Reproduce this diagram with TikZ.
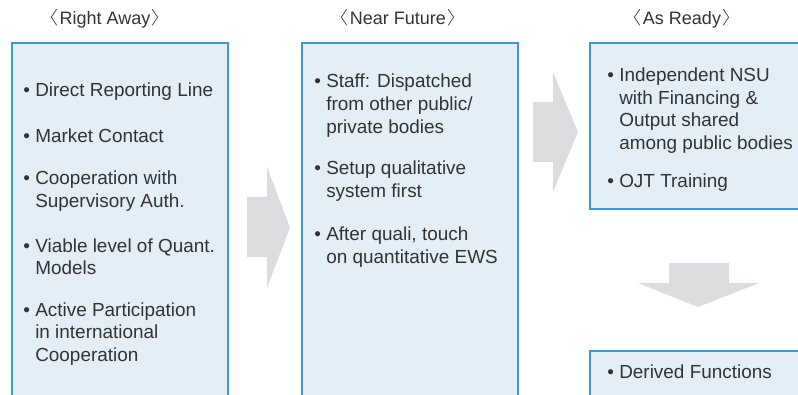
\documentclass[tikz,border=0pt]{standalone}
\usepackage{fontspec}
\setmainfont{Liberation Sans}
\newfontfamily\cjkfont{Noto Sans CJK KR Light}
\definecolor{boxline}{HTML}{3A9AD9}
\definecolor{boxfill}{HTML}{E4EEF7}
\definecolor{arrowgray}{HTML}{DCDDDF}
\definecolor{ink}{HTML}{333333}
\newcommand\bul{\makebox[9pt][l]{\textbullet}}
% full-width angle brackets, with their empty outer half trimmed
\newcommand\phase[1]{\kern-0.5em{\cjkfont 〈}\kern1pt#1\kern1pt{\cjkfont 〉}\kern-0.5em}
\begin{document}
\begin{tikzpicture}[x=0.75pt,y=-0.75pt,
  stagebox/.style={draw=boxline, fill=boxfill, line width=1pt},
  blockarrow/.style={fill=arrowgray, draw=none},
  txt/.style={anchor=base west, inner sep=0pt, text=ink, font=\fontsize{14.2pt}{17pt}\selectfont},
  heading/.style={anchor=base, inner sep=0pt, text=ink, font=\fontsize{13.5pt}{16pt}\selectfont}]
\useasboundingbox (0,0) rectangle (798,395);
\clip (0,0) rectangle (798,395);

% stage boxes
\draw[stagebox] (12,43) rectangle (228,420);
\draw[stagebox] (302,43) rectangle (518,420);
\draw[stagebox] (590,43) rectangle (820,209);
\draw[stagebox] (590,351) rectangle (820,420);

% block arrows between the stages
\fill[blockarrow] (247,197) -- (267,197) -- (267,167) -- (290,227.5) -- (267,288) -- (267,257) -- (247,257) -- cycle;
\fill[blockarrow] (533,102) -- (553,102) -- (553,72) -- (578,132) -- (553,192) -- (553,162) -- (533,162) -- cycle;
\fill[blockarrow] (669,263) -- (729,263) -- (729,283) -- (759,283) -- (698,307) -- (638,283) -- (669,283) -- cycle;

% headings
\node[heading] (h1) at (105,25) {\phase{Right Away}};
\node[heading] (h2) at (398,25) {\phase{Near Future}};
\node[heading] (h3) at (682,25) {\phase{As Ready}};

% right away
\node[txt] (a1) at (23,97) {\bul Direct Reporting Line};
\node[txt] (a2) at (23,143) {\bul Market Contact};
\node[txt] (a3) at (23,185) {\bul Cooperation with};
\node[txt] (a3b) at (35,207.5) {Supervisory Auth.};
\node[txt] (a4) at (23,252) {\bul Viable level of Quant.};
\node[txt] (a4b) at (35,274.5) {Models};
\node[txt] (a5) at (23,316) {\bul Active Participation};
\node[txt] (a5b) at (35,338.5) {in international};
\node[txt] (a5c) at (35,361) {Cooperation};

% near future
\node[txt] (b1) at (314,88) {\bul Staff: Dispatched};
\node[txt] (b1b) at (326,111) {from other public/};
\node[txt] (b1c) at (326,134) {private bodies};
\node[txt] (b2) at (314,175) {\bul Setup qualitative};
\node[txt] (b2b) at (326,198) {system first};
\node[txt] (b3) at (314,240) {\bul After quali, touch};
\node[txt] (b3b) at (326,263) {on quantitative EWS};

% as ready
\node[txt] (c1) at (607,82) {\bul Independent NSU};
\node[txt] (c1b) at (619,104.5) {with Financing \&};
\node[txt] (c1c) at (619,127) {Output shared};
\node[txt] (c1d) at (619,149.5) {among public bodies};
\node[txt] (c2) at (607,188) {\bul OJT Training};
\node[txt] (d1) at (607,378) {\bul Derived Functions};
\end{tikzpicture}
\end{document}
